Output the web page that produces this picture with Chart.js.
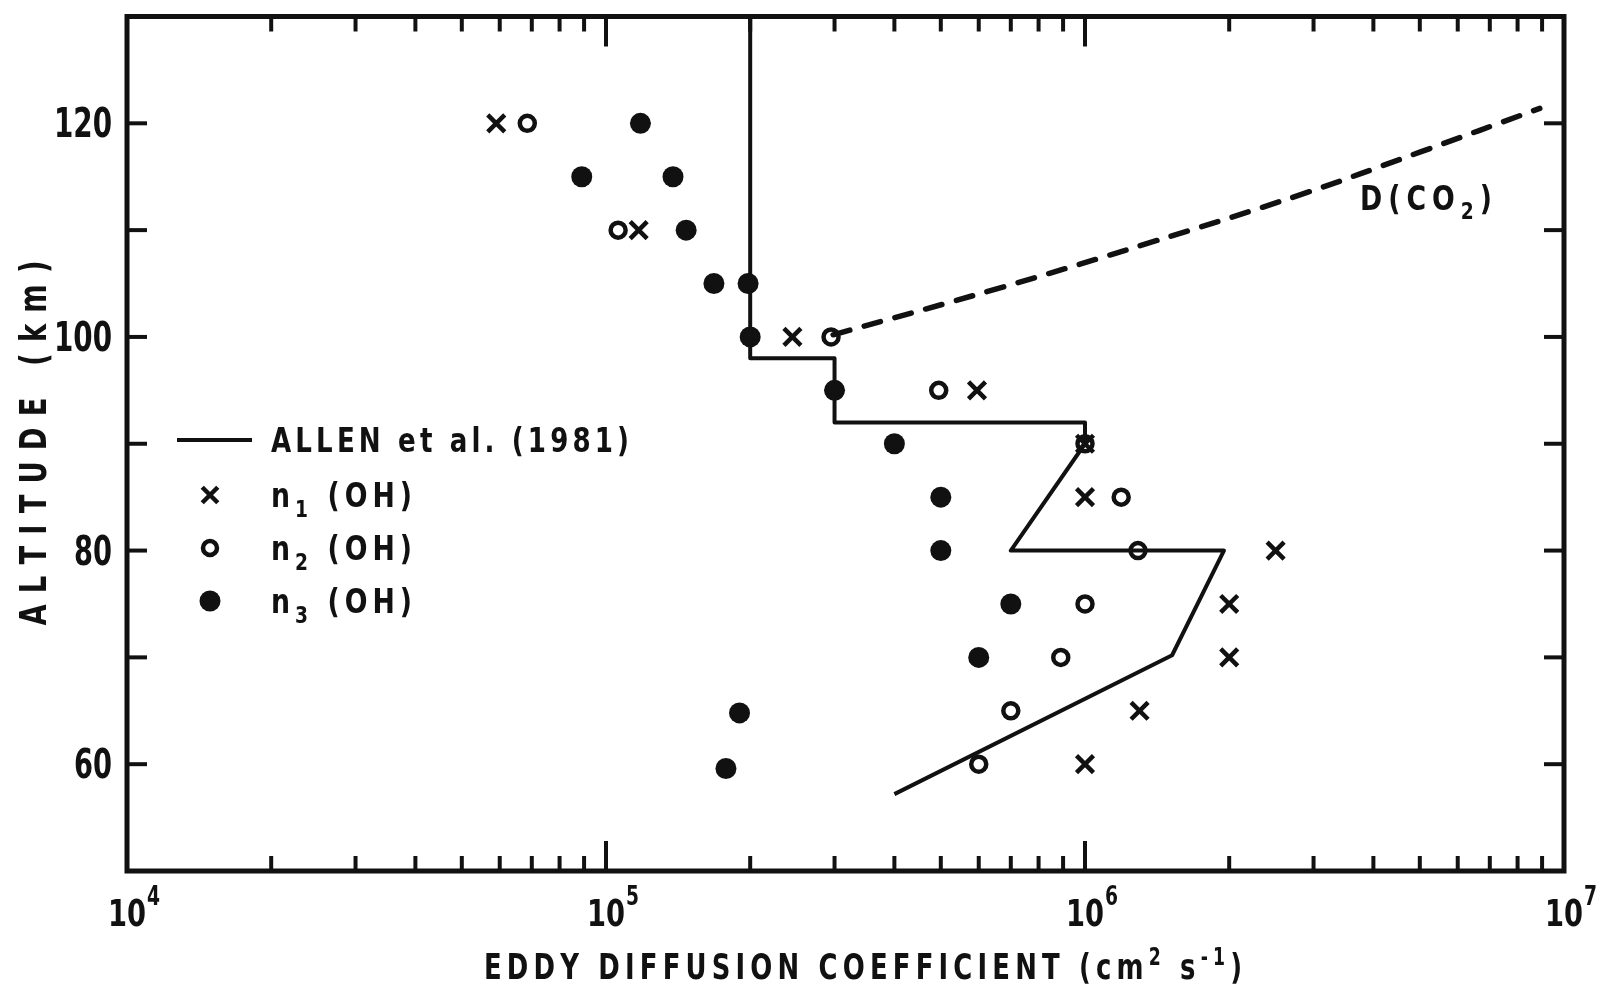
<!DOCTYPE html>
<html>
<head>
<meta charset="utf-8">
<title>Eddy diffusion coefficient</title>
<script src="https://cdn.jsdelivr.net/npm/chart.js@4.4.1/dist/chart.umd.min.js"></script>
<style>
  html, body { margin: 0; padding: 0; background: #fff; }
  #wrap { width: 1603px; height: 989px; position: relative; }
</style>
</head>
<body>
<div id="wrap"><canvas id="chart"></canvas></div>
<script>
// values (K in cm2/s, altitude in km)
const n1K   = [5.9e4, 1.17e5, 2.45e5, 5.95e5, 1.0e6, 1.0e6, 2.5e6, 2.0e6, 2.0e6, 1.3e6, 1.0e6];
const n1Alt = [120, 110, 100, 95, 90, 85, 80, 75, 70, 65, 60];

const n2K   = [6.85e4, 1.06e5, 2.95e5, 4.95e5, 1.0e6, 1.19e6, 1.29e6, 1.0e6, 8.9e5, 7.0e5, 6.0e5];
const n2Alt = [120, 110, 100, 95, 90, 85, 80, 75, 70, 65, 60];

const n3K   = [1.18e5, 8.9e4, 1.38e5, 1.47e5, 1.68e5, 1.98e5, 2.0e5, 3.0e5, 4.0e5, 5.0e5, 5.0e5, 7.0e5, 6.0e5, 1.9e5, 1.78e5];
const n3Alt = [120, 115, 115, 110, 105, 105, 100, 95, 90, 85, 80, 75, 70, 64.8, 59.6];

// ALLEN et al. (1981) profile
const allenK   = [2e5, 2e5, 3e5, 3e5, 1e6, 1e6, 7e5, 1.95e6, 1.52e6, 4.0e5];
const allenAlt = [130, 98, 98, 92, 92, 90, 80, 80, 70.2, 57.2];

// D(CO2)
const co2K   = [2.98e5, 6.65e5, 1.36e6, 2.81e6, 5.0e6, 8.9e6];
const co2Alt = [100.2, 104.6, 108.8, 113.3, 117.3, 121.4];

const yTickLabels = [60, 80, 100, 120];
const xTickExps = [4, 5, 6, 7];

const FONT = "'Liberation Sans Narrow', 'DejaVu Sans Condensed', 'Arial Narrow', sans-serif";
const INK = '#111';
const NARROW = 0.8;   // horizontal squeeze to imitate the stencil lettering

function pts(xs, ys) {
  return xs.map((x, i) => ({ x: x, y: ys[i] }));
}

// draw text runs (sub/superscripts via dy), squeezed, spread out to a given width
function drawFit(ctx, runs, x, y, align, width, squeeze) {
  const items = [];
  let natural = 0;
  runs.forEach(r => {
    ctx.font = 'bold ' + r.size + 'px ' + FONT;
    for (const ch of r.t) {
      const w = ctx.measureText(ch).width;
      items.push({ ch: ch, w: w, size: r.size, dy: r.dy || 0 });
      natural += w;
    }
  });
  let sx = squeeze || NARROW;
  let spacing = 0;
  if (width) {
    if (natural * sx > width) {
      sx = width / natural;
    } else if (items.length > 1) {
      spacing = (width - natural * sx) / (items.length - 1);
    }
  }
  const total = natural * sx + spacing * (items.length - 1);
  let cx = align === 'center' ? x - total / 2 : align === 'right' ? x - total : x;
  ctx.textAlign = 'left';
  ctx.textBaseline = 'alphabetic';
  items.forEach(it => {
    ctx.font = 'bold ' + it.size + 'px ' + FONT;
    ctx.save();
    ctx.translate(cx, y + it.dy);
    ctx.scale(sx, 1);
    ctx.fillText(it.ch, 0, 0);
    ctx.restore();
    cx += it.w * sx + spacing;
  });
}

function line(ctx, x1, y1, x2, y2) {
  ctx.beginPath();
  ctx.moveTo(x1, y1);
  ctx.lineTo(x2, y2);
  ctx.stroke();
}

function marker(ctx, style, r, bw, fill, x, y) {
  ctx.save();
  ctx.lineWidth = bw;
  ctx.strokeStyle = INK;
  ctx.fillStyle = fill;
  Chart.helpers.drawPoint(ctx, { pointStyle: style, radius: r, borderWidth: bw, rotation: 0 }, x, y);
  ctx.restore();
}

const framePlugin = {
  id: 'frame',
  afterDraw(chart) {
    const ctx = chart.ctx;
    const a = chart.chartArea;
    const xs = chart.scales.x;
    const ys = chart.scales.y;
    ctx.save();
    ctx.strokeStyle = INK;
    ctx.fillStyle = INK;

    // inward ticks
    ctx.lineWidth = 4;
    for (let e = 4; e < 7; e++) {
      for (let m = 1; m <= 9; m++) {
        if (e === 4 && m === 1) continue;
        const px = xs.getPixelForValue(m * Math.pow(10, e));
        const len = m === 1 ? 30 : 15;
        line(ctx, px, a.bottom, px, a.bottom - len);
        line(ctx, px, a.top, px, a.top + len);
      }
    }
    for (let v = 60; v <= 120; v += 10) {
      const py = ys.getPixelForValue(v);
      line(ctx, a.left, py, a.left + 20, py);
      line(ctx, a.right, py, a.right - 20, py);
    }
    ctx.lineWidth = 5;
    ctx.strokeRect(a.left, a.top, a.right - a.left, a.bottom - a.top);

    // y tick labels
    yTickLabels.forEach(v => {
      const py = ys.getPixelForValue(v);
      const s = String(v);
      drawFit(ctx, [{ t: s, size: 40 }], 112, py + 14, 'right', s.length === 3 ? 58 : 38);
    });

    // x tick labels 10^n
    xTickExps.forEach(e => {
      const px = xs.getPixelForValue(Math.pow(10, e));
      drawFit(ctx, [{ t: '10', size: 38 }], px, 926, 'center', 38);
      drawFit(ctx, [{ t: String(e), size: 26 }], px + 20, 905, 'left', 13);
    });

    // axis titles
    drawFit(ctx, [
      { t: 'EDDY DIFFUSION COEFFICIENT (cm', size: 36 },
      { t: '2', size: 24, dy: -14 },
      { t: ' s', size: 36 },
      { t: '-1', size: 24, dy: -14 },
      { t: ')', size: 36 }
    ], 484, 979, 'left', 758);

    ctx.save();
    ctx.translate(32, 443);
    ctx.rotate(-Math.PI / 2);
    drawFit(ctx, [{ t: 'ALTITUDE (km)', size: 38 }], 0, 14, 'center', 365);
    ctx.restore();

    // curve label
    drawFit(ctx, [
      { t: 'D(CO', size: 33 },
      { t: '2', size: 23, dy: 9 },
      { t: ')', size: 33 }
    ], 1360, 210, 'left', 132, 0.9);

    // legend
    ctx.lineWidth = 4;
    line(ctx, 177, 440, 252, 440);
    drawFit(ctx, [{ t: 'ALLEN et al. (1981)', size: 33 }], 271, 452, 'left', 358, 0.88);
    const rows = [
      { sub: '1', y: 495, style: 'crossRot', r: 11, bw: 4.5, fill: 'rgba(0,0,0,0)' },
      { sub: '2', y: 548, style: 'circle', r: 7, bw: 4.5, fill: 'rgba(0,0,0,0)' },
      { sub: '3', y: 601, style: 'circle', r: 10.5, bw: 0, fill: INK }
    ];
    rows.forEach(row => {
      marker(ctx, row.style, row.r, row.bw, row.fill, 210, row.y);
      drawFit(ctx, [
        { t: 'n', size: 33 },
        { t: row.sub, size: 23, dy: 10 },
        { t: ' (OH)', size: 33 }
      ], 271, row.y + 12, 'left', 141, 0.9);
    });
    ctx.restore();
  }
};

new Chart(document.getElementById('chart'), {
  type: 'scatter',
  data: {
    datasets: [
      {
        label: 'n1 (OH)',
        data: pts(n1K, n1Alt),
        pointStyle: 'crossRot',
        pointRadius: 12,
        pointBorderWidth: 4.5,
        pointBorderColor: INK,
        pointBackgroundColor: INK,
        order: 0
      },
      {
        label: 'n2 (OH)',
        data: pts(n2K, n2Alt),
        pointStyle: 'circle',
        pointRadius: 7.5,
        pointBorderWidth: 4.5,
        pointBorderColor: INK,
        pointBackgroundColor: 'rgba(0,0,0,0)',
        order: 0
      },
      {
        label: 'n3 (OH)',
        data: pts(n3K, n3Alt),
        pointStyle: 'circle',
        pointRadius: 10.5,
        pointBorderWidth: 0,
        pointBackgroundColor: INK,
        order: 0
      },
      {
        label: 'ALLEN et al. (1981)',
        data: pts(allenK, allenAlt),
        showLine: true,
        borderColor: INK,
        borderWidth: 4,
        borderJoinStyle: 'round',
        pointRadius: 0,
        tension: 0,
        order: 1
      },
      {
        label: 'D(CO2)',
        data: pts(co2K, co2Alt),
        showLine: true,
        borderColor: INK,
        borderWidth: 5.5,
        borderDash: [17, 15],
        borderCapStyle: 'round',
        pointRadius: 0,
        tension: 0.4,
        order: 1
      }
    ]
  },
  options: {
    responsive: true,
    maintainAspectRatio: false,
    animation: false,
    layout: { padding: { left: 127, right: 39, top: 13, bottom: 118 } },
    plugins: { legend: { display: false }, tooltip: { enabled: false } },
    scales: {
      x: { type: 'logarithmic', min: 1e4, max: 1e7, display: false },
      y: { type: 'linear', min: 50, max: 130, display: false }
    }
  },
  plugins: [framePlugin]
});
</script>
</body>
</html>
